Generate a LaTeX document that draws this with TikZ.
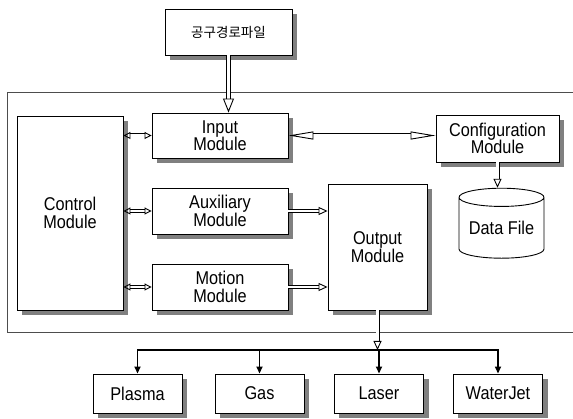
\documentclass[tikz,border=0pt]{standalone}
\usepackage{fontspec}
\setmainfont{Liberation Sans}[FakeStretch=0.88]
\newfontfamily\krfont{Noto Sans CJK KR}
\usepackage{xcolor}
\definecolor{FrameGray}{HTML}{4d4d4d}
\usetikzlibrary{arrows.meta, shapes.geometric, backgrounds}

\begin{document}
\begin{tikzpicture}[x=1pt, y=1pt,
  box/.style={draw, line width=0.9pt, fill=white, align=center, inner sep=0pt,
    font=\fontsize{18.5}{17.5}\selectfont},
  store/.style={cylinder, shape border rotate=90, draw, line width=0.9pt, aspect=0.28,
    minimum width=85pt, minimum height=70pt, inner sep=0pt,
    font=\fontsize{18.5}{17.5}\selectfont},
  hollow/.style={double, double distance=2.2pt, line width=0.9pt,
    -{Triangle[open, length=9pt, width=8pt]}},
  hollowboth/.style={hollow, {Triangle[open, length=7pt, width=7pt]}-{Triangle[open, length=7pt, width=7pt]}},
  feed/.style={line width=1.6pt, -{Triangle[length=7pt, width=6pt]}}]

  \useasboundingbox (0,0) rectangle (573,419);
  \draw[FrameGray, line width=1pt] (7,86) rectangle (600,326);

  % modules
  \node[box, minimum width=127pt, minimum height=46pt] (path) at (228.5,387)
    {\krfont\fontsize{13.5}{15}\selectfont 공구경로파일};
  \node[box, minimum width=106pt, minimum height=194pt] (control) at (70,206) {Control\\Module};
  \node[box, minimum width=136pt, minimum height=45pt] (input) at (220,283.5) {Input\\Module};
  \node[box, minimum width=136pt, minimum height=46pt] (aux) at (220,208) {Auxiliary\\Module};
  \node[box, minimum width=136pt, minimum height=46pt] (motion) at (220,132) {Motion\\Module};
  \node[box, minimum width=123pt, minimum height=47pt] (config) at (497.5,280.5) {Configuration\\Module};
  \node[box, minimum width=99pt, minimum height=126pt] (output) at (377.5,172) {Output\\Module};
  \node[store] (data) at (501.5,191) {Data File};

  % machines
  \node[box, minimum width=89pt, minimum height=39pt] (plasma) at (137.5,25.5) {Plasma};
  \node[box, minimum width=89pt, minimum height=39pt] (gas) at (259.5,25.5) {Gas};
  \node[box, minimum width=89pt, minimum height=39pt] (laser) at (379,25.5) {Laser};
  \node[box, minimum width=89pt, minimum height=39pt] (waterjet) at (498,25.5) {WaterJet};

  % shadows
  \begin{scope}[on background layer]
    \foreach \m in {path, control, input, aux, motion, config, output, plasma, gas, laser, waterjet}
      \fill[black!50] ([shift={(5,-5)}]\m.south west) rectangle ([shift={(5,-5)}]\m.north east);
  \end{scope}

  % connectors
  \draw[hollow, double distance=3pt, -{Triangle[open, length=14pt, width=11pt]}]
    (path.south) -- (path.south |- input.north);
  \draw[hollowboth] (control.east |- input.west) -- (input.west);
  \draw[hollowboth] (control.east |- aux.west) -- (aux.west);
  \draw[hollowboth] (control.east |- motion.west) -- (motion.west);
  \draw[hollow, {Triangle[open, length=25pt, width=8pt]}-{Triangle[open, length=25pt, width=8pt]}]
    (input.east) -- (config.west |- input.east);
  \draw[hollow] (aux.east) -- (output.west |- aux.east);
  \draw[hollow] (motion.east) -- (output.west |- motion.east);
  \draw[hollow] (config.south) -- (config.south |- data.north);

  \coordinate (bus) at (377.5,69);
  \draw[hollow] (output.south) -- (bus);
  \draw[feed, {Triangle[length=7pt, width=6pt]}-{Triangle[length=7pt, width=6pt]}]
    (plasma.north) -- (plasma.north |- bus) -- (waterjet.north |- bus) -- (waterjet.north);
  \foreach \m in {gas, laser}
    \draw[feed] (\m.north |- bus) -- (\m.north);
\end{tikzpicture}
\end{document}
